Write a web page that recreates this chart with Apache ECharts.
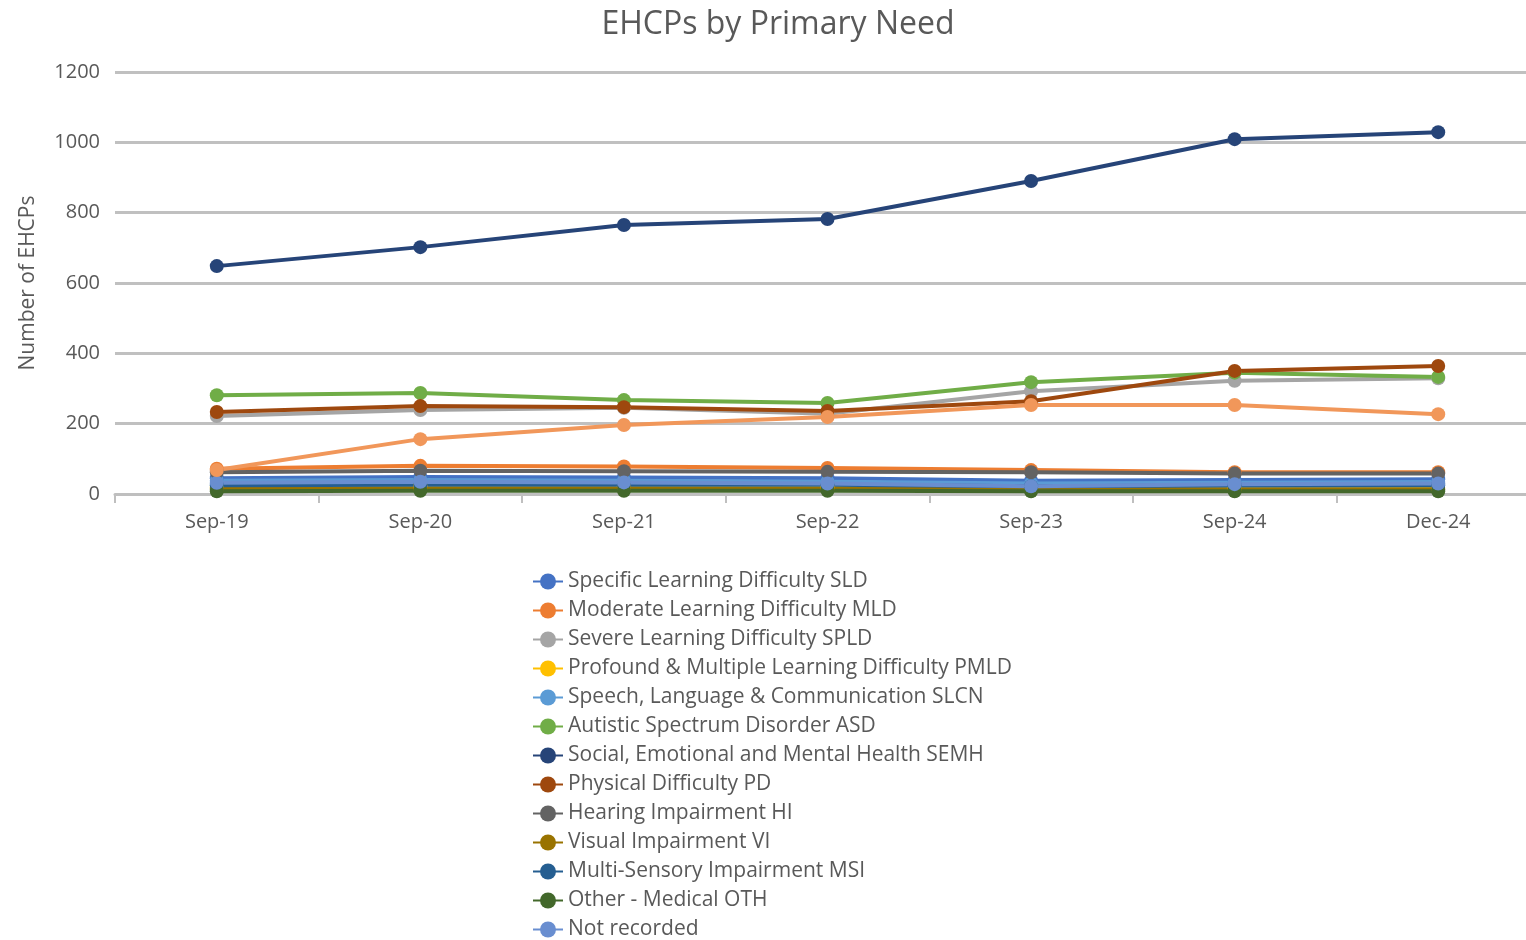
<!DOCTYPE html>
<html>
<head>
<meta charset="utf-8">
<title>EHCPs by Primary Need</title>
<script src="https://cdn.jsdelivr.net/npm/echarts@6/dist/echarts.min.js"></script>
<style>
  html, body { margin: 0; padding: 0; background: #fff; }
  #chart { width: 1526px; height: 940px; }
</style>
</head>
<body>
<div id="chart"></div>
<script>
// categories (snapshot dates)
const months = ['Sep-19', 'Sep-20', 'Sep-21', 'Sep-22', 'Sep-23', 'Sep-24', 'Dec-24']

// one array per primary need
const sld = [45, 48, 47, 45, 38, 40, 42]
const mld = [72, 80, 78, 74, 68, 62, 62]
const spld = [222, 239, 245, 228, 292, 322, 329]
const pmld = [20, 22, 22, 20, 18, 17, 17]
const slcn = [38, 40, 38, 35, 30, 32, 34]
const asd = [281, 287, 267, 259, 318, 345, 333]
const semh = [648, 702, 765, 782, 890, 1009, 1029]
const pd = [233, 250, 247, 236, 264, 350, 364]
const hi = [62, 66, 65, 63, 62, 58, 58]
const vi = [14, 15, 15, 14, 14, 13, 13]
const msi = [25, 26, 27, 26, 22, 24, 25]
const oth = [8, 9, 9, 9, 8, 8, 8]
const notRecorded = [32, 35, 33, 30, 22, 28, 30]
const other = [68, 156, 196, 219, 253, 253, 227] // 14th series, its legend entry is cut off

const names = [
  'Specific Learning Difficulty SLD',
  'Moderate Learning Difficulty MLD',
  'Severe Learning Difficulty SPLD',
  'Profound & Multiple Learning Difficulty PMLD',
  'Speech, Language & Communication SLCN',
  'Autistic Spectrum Disorder ASD',
  'Social, Emotional and Mental Health SEMH',
  'Physical Difficulty PD',
  'Hearing Impairment HI',
  'Visual Impairment VI',
  'Multi-Sensory Impairment MSI',
  'Other - Medical OTH',
  'Not recorded',
  'Other'
]
const values = [sld, mld, spld, pmld, slcn, asd, semh, pd, hi, vi, msi, oth, notRecorded, other]
const colors = ['#4472C4', '#ED7D31', '#A5A5A5', '#FFC000', '#5B9BD5', '#70AD47', '#264478',
  '#9E480E', '#636363', '#997300', '#255E91', '#43682B', '#698ED0', '#F1975A']

const font = '"Open Sans", "Noto Sans", sans-serif'
const textGrey = '#595959'

let series = []
for (let i = 0; i < names.length; i++) {
  series.push({
    name: names[i],
    type: 'line',
    data: values[i],
    symbol: 'circle',
    symbolSize: 14,
    lineStyle: { width: 4, color: colors[i] },
    itemStyle: { color: colors[i] }
  })
}

let chart = echarts.init(document.getElementById('chart'))
chart.setOption({
  animation: false,
  color: colors,
  title: {
    text: 'EHCPs by Primary Need',
    left: 773,
    top: 4,
    textAlign: 'center',
    textStyle: { fontFamily: font, fontSize: 32, fontWeight: 'normal', color: textGrey }
  },
  // plot area runs a little past the right edge, as in the original
  grid: { left: 115, top: 72, width: 1425, height: 422, outerBoundsMode: 'none' },
  legend: {
    orient: 'vertical',
    left: 527,
    top: 566,
    height: 800,
    itemWidth: 30,
    itemHeight: 20,
    itemGap: 8,
    textStyle: { fontFamily: font, fontSize: 21, color: textGrey },
    data: names
  },
  xAxis: {
    type: 'category',
    data: months,
    boundaryGap: true,
    axisLine: { lineStyle: { color: '#bfbfbf', width: 3 } },
    axisTick: { show: true, length: 9, lineStyle: { color: '#bfbfbf', width: 2 } },
    axisLabel: { fontFamily: font, fontSize: 20, color: textGrey, margin: 18 }
  },
  yAxis: {
    type: 'value',
    min: 0,
    max: 1200,
    interval: 200,
    name: 'Number of EHCPs',
    nameLocation: 'middle',
    nameGap: 76,
    nameTextStyle: { fontFamily: font, fontSize: 21, color: textGrey },
    axisLine: { show: false },
    axisTick: { show: false },
    axisLabel: { fontFamily: font, fontSize: 20, color: textGrey, margin: 15, formatter: v => String(v) },
    splitLine: { lineStyle: { color: '#c0c0c0', width: 3 } }
  },
  series: series
})
</script>
</body>
</html>
